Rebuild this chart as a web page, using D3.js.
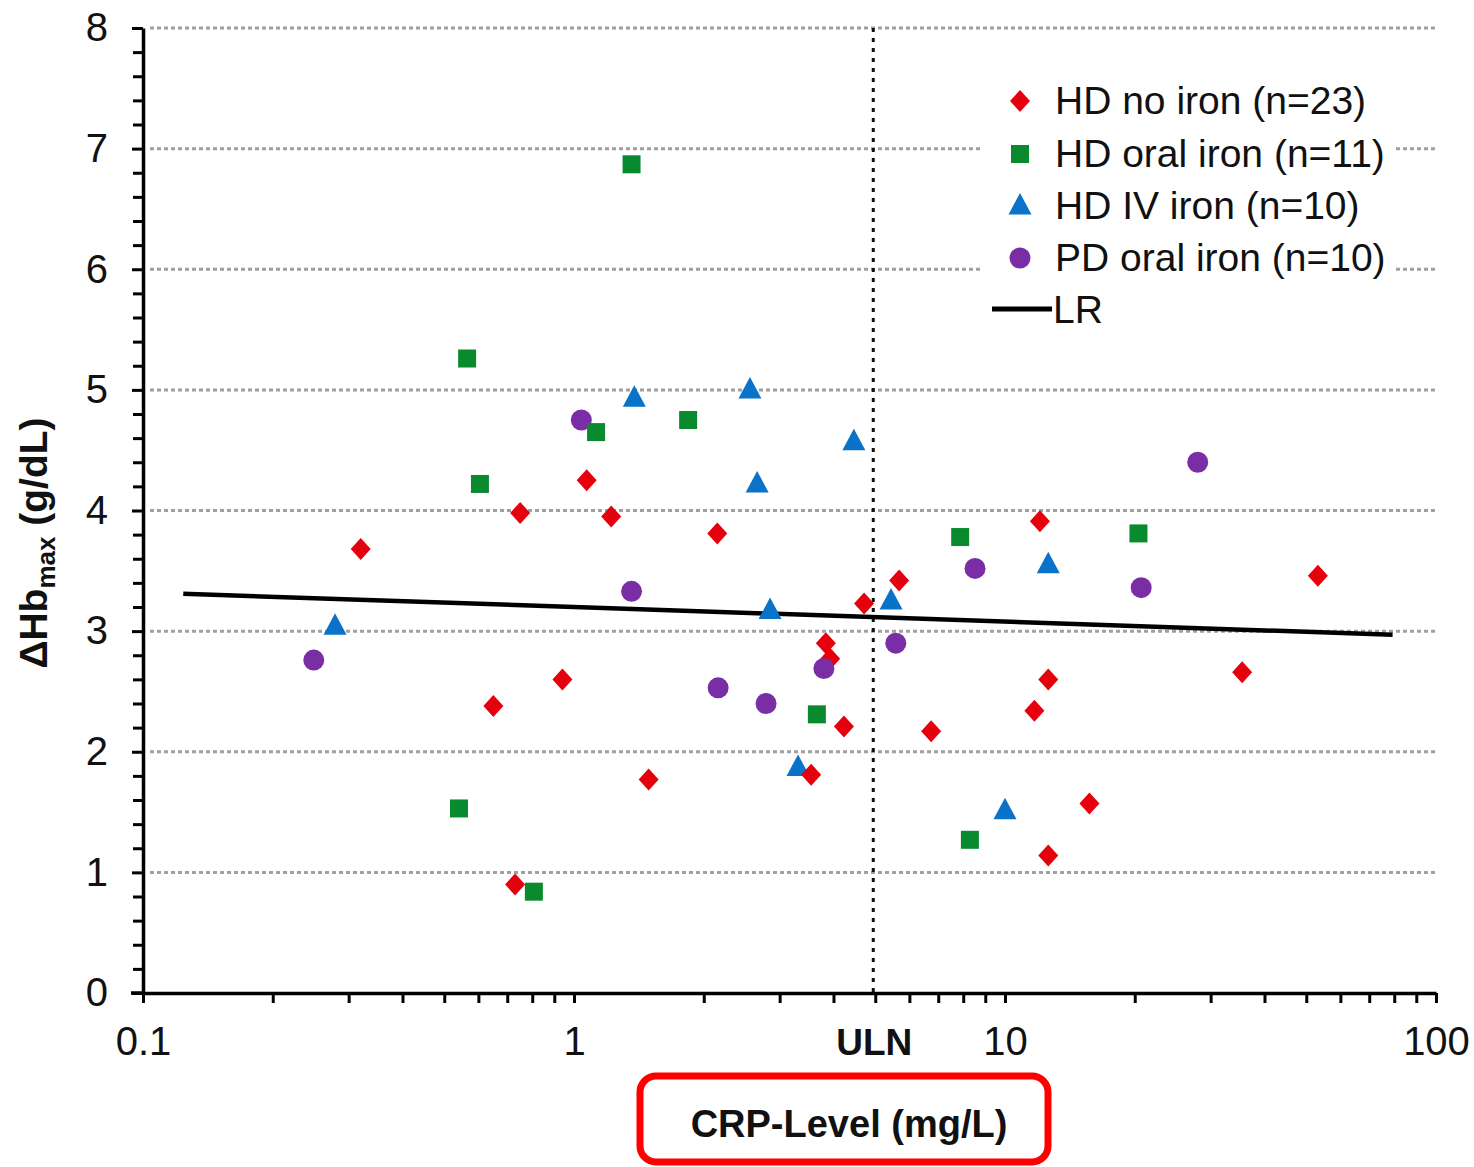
<!DOCTYPE html>
<html>
<head>
<meta charset="utf-8">
<script src="https://cdn.jsdelivr.net/npm/d3@7"></script>
<style>
  html, body { margin: 0; padding: 0; background: #fff; }
  svg { display: block; font-family: "Liberation Sans", Arial, sans-serif; }
</style>
</head>
<body>
<svg id="chart" width="1474" height="1167"></svg>
<script>
// CRP level (mg/L) and maximal Hb increase (g/dL) per patient group
const hdNoIronCrp = [0.32, 0.75, 1.07, 1.22, 2.15, 0.65, 0.94, 0.73, 1.49, 3.55, 3.84, 3.93, 4.23, 4.71, 5.68, 6.74, 12.05, 11.7, 12.6, 12.6, 15.7, 35.5, 53.2];
const hdNoIronDHb = [3.68, 3.98, 4.25, 3.95, 3.81, 2.38, 2.60, 0.90, 1.77, 1.81, 2.90, 2.77, 2.21, 3.23, 3.42, 2.17, 3.91, 2.34, 2.60, 1.14, 1.57, 2.66, 3.46];

const hdOralCrp = [1.36, 0.565, 0.605, 1.125, 1.84, 0.541, 0.807, 3.66, 7.87, 8.29, 20.4];
const hdOralDHb = [6.87, 5.26, 4.22, 4.65, 4.75, 1.53, 0.84, 2.31, 3.78, 1.27, 3.81];

const hdIvCrp = [0.279, 1.38, 2.56, 2.66, 4.46, 2.85, 5.44, 3.31, 10.0, 12.6];
const hdIvDHb = [3.04, 4.93, 5.00, 4.22, 4.57, 3.17, 3.25, 1.87, 1.51, 3.55];

const pdOralCrp = [0.249, 1.04, 1.36, 2.16, 2.79, 3.80, 5.58, 8.52, 20.7, 28.0];
const pdOralDHb = [2.76, 4.75, 3.33, 2.53, 2.40, 2.69, 2.90, 3.52, 3.36, 4.40];

// Linear regression line end points (CRP, ΔHb)
const lrCrp = [0.124, 79.3];
const lrDHb = [3.31, 2.97];

const uln = 5;
const xTickValues = [0.1, 1, 10, 100];
const xTickLabels = ["0.1", "1", "10", "100"];
const yTickValues = [0, 1, 2, 3, 4, 5, 6, 7, 8];

const seriesNames = ["HD no iron (n=23)", "HD oral iron (n=11)", "HD IV iron (n=10)", "PD oral iron (n=10)"];

const svg = d3.select("#chart");

const x = d3.scaleLog().domain([0.1, 100]).range([143, 1436]);
const y = d3.scaleLinear().domain([0, 8]).range([993, 28]);

const colors = { red: "#e6000e", green: "#0a8a2e", blue: "#0a72c8", purple: "#7a2ea6" };

const series = [
  { name: seriesNames[0], crp: hdNoIronCrp, dhb: hdNoIronDHb, color: colors.red, shape: "diamond" },
  { name: seriesNames[1], crp: hdOralCrp, dhb: hdOralDHb, color: colors.green, shape: "square" },
  { name: seriesNames[2], crp: hdIvCrp, dhb: hdIvDHb, color: colors.blue, shape: "triangle" },
  { name: seriesNames[3], crp: pdOralCrp, dhb: pdOralDHb, color: colors.purple, shape: "circle" }
];

// marker outlines centred on the data point
const markerPaths = {
  diamond: "M0,-11 L10,0 L0,11 L-10,0 Z",
  square: "M-9,-9 H9 V9 H-9 Z",
  triangle: "M0,-13 L11.5,8.5 L-11.5,8.5 Z"
};

function drawMarker(g, shape, color) {
  if (shape === "circle") {
    g.append("circle").attr("r", 10.5).attr("fill", color);
  } else {
    g.append("path").attr("d", markerPaths[shape]).attr("fill", color);
  }
}

// horizontal dotted grid
svg.append("g").selectAll("line")
  .data(yTickValues.filter(v => v > 0))
  .join("line")
  .attr("x1", 150).attr("x2", 1436)
  .attr("y1", d => y(d)).attr("y2", d => y(d))
  .attr("stroke", "#a0a0a0").attr("stroke-width", 3).attr("stroke-dasharray", "4 3");

// upper limit of normal
svg.append("line")
  .attr("x1", x(uln) - 2).attr("x2", x(uln) - 2)
  .attr("y1", y(8)).attr("y2", y(0))
  .attr("stroke", "#111").attr("stroke-width", 3).attr("stroke-dasharray", "4 6");

// regression line
svg.append("path")
  .datum(lrCrp.map((c, i) => [c, lrDHb[i]]))
  .attr("d", d3.line().x(d => x(d[0])).y(d => y(d[1])))
  .attr("stroke", "#000").attr("stroke-width", 4.5).attr("fill", "none");

// points (drawing order keeps the overlaps)
const drawOrder = [2, 0, 3, 1];
drawOrder.forEach(si => {
  const s = series[si];
  const pts = s.crp.map((c, i) => ({ c, v: s.dhb[i] }));
  svg.append("g").selectAll("g")
    .data(pts).join("g")
    .attr("transform", d => `translate(${x(d.c)},${y(d.v)})`)
    .each(function () { drawMarker(d3.select(this), s.shape, s.color); });
});

// legend
const legend = svg.append("g");
legend.append("rect").attr("x", 982).attr("y", 70).attr("width", 414).attr("height", 266).attr("fill", "#fff");
const rowMarkerY = [101, 154, 206, 258];
series.forEach((s, i) => {
  const g = legend.append("g").attr("transform", `translate(1020,${rowMarkerY[i]})`);
  drawMarker(g, s.shape, s.color);
  legend.append("text").attr("x", 1055).attr("y", rowMarkerY[i] + 13)
    .attr("font-size", 39).attr("fill", "#111").text(s.name);
});
legend.append("line").attr("x1", 992).attr("x2", 1052).attr("y1", 309).attr("y2", 309)
  .attr("stroke", "#000").attr("stroke-width", 5);
legend.append("text").attr("x", 1053).attr("y", 323).attr("font-size", 39).attr("fill", "#111").text("LR");

// y axis
svg.append("g").attr("transform", "translate(143,0)")
  .call(d3.axisLeft(y).tickValues(yTickValues).tickSize(11).tickSizeOuter(0).tickPadding(24).tickFormat(d3.format("d")));
svg.append("g").attr("transform", "translate(143,0)")
  .call(d3.axisLeft(y).tickValues(d3.range(0, 8.001, 0.2).filter(v => Math.abs(v - Math.round(v)) > 1e-6))
    .tickSize(10).tickSizeOuter(0).tickFormat(""))
  .call(g => g.select(".domain").remove());

// x axis
const xLabel = d3.scaleOrdinal().domain(xTickValues).range(xTickLabels);
svg.append("g").attr("transform", "translate(0,993)")
  .call(d3.axisBottom(x).tickValues(xTickValues).tickSize(10).tickSizeOuter(0).tickPadding(24).tickFormat(d => xLabel(d)));
const minorX = [];
[0.1, 1, 10].forEach(b => { for (let k = 2; k <= 9; k++) minorX.push(b * k); });
svg.append("g").attr("transform", "translate(0,993)")
  .call(d3.axisBottom(x).tickValues(minorX).tickSize(10).tickSizeOuter(0).tickFormat(""))
  .call(g => g.select(".domain").remove());

svg.selectAll(".domain").attr("stroke", "#000").attr("stroke-width", 3.5);
svg.selectAll(".tick line").attr("stroke", "#000").attr("stroke-width", 3);
svg.selectAll(".tick text").attr("font-size", 40).attr("fill", "#111")
  .attr("font-family", "'Liberation Sans', Arial, sans-serif");

// extend x axis line slightly left of the y axis
svg.append("line").attr("x1", 131).attr("x2", 145).attr("y1", 993).attr("y2", 993)
  .attr("stroke", "#000").attr("stroke-width", 3.5);

// ULN label
svg.append("text").attr("x", x(uln) - 1).attr("y", 1055).attr("text-anchor", "middle")
  .attr("font-size", 37).attr("font-weight", "bold").attr("fill", "#111").text("ULN");

// axis titles
const yTitle = svg.append("text")
  .attr("transform", "translate(47,543) rotate(-90)")
  .attr("text-anchor", "middle").attr("font-weight", "bold").attr("font-size", 39).attr("fill", "#111")
  .style("white-space", "pre");
yTitle.append("tspan").text("ΔHb");
yTitle.append("tspan").attr("font-size", 26).attr("dy", 8).text("max");
yTitle.append("tspan").attr("dy", -8).text(" (g/dL)");

svg.append("rect").attr("x", 640).attr("y", 1076).attr("width", 408).attr("height", 86).attr("rx", 16)
  .attr("fill", "none").attr("stroke", "#ff0000").attr("stroke-width", 7);
svg.append("text").attr("x", 849).attr("y", 1137).attr("text-anchor", "middle")
  .attr("font-size", 38).attr("font-weight", "bold").attr("fill", "#111").text("CRP-Level (mg/L)");
</script>
</body>
</html>
